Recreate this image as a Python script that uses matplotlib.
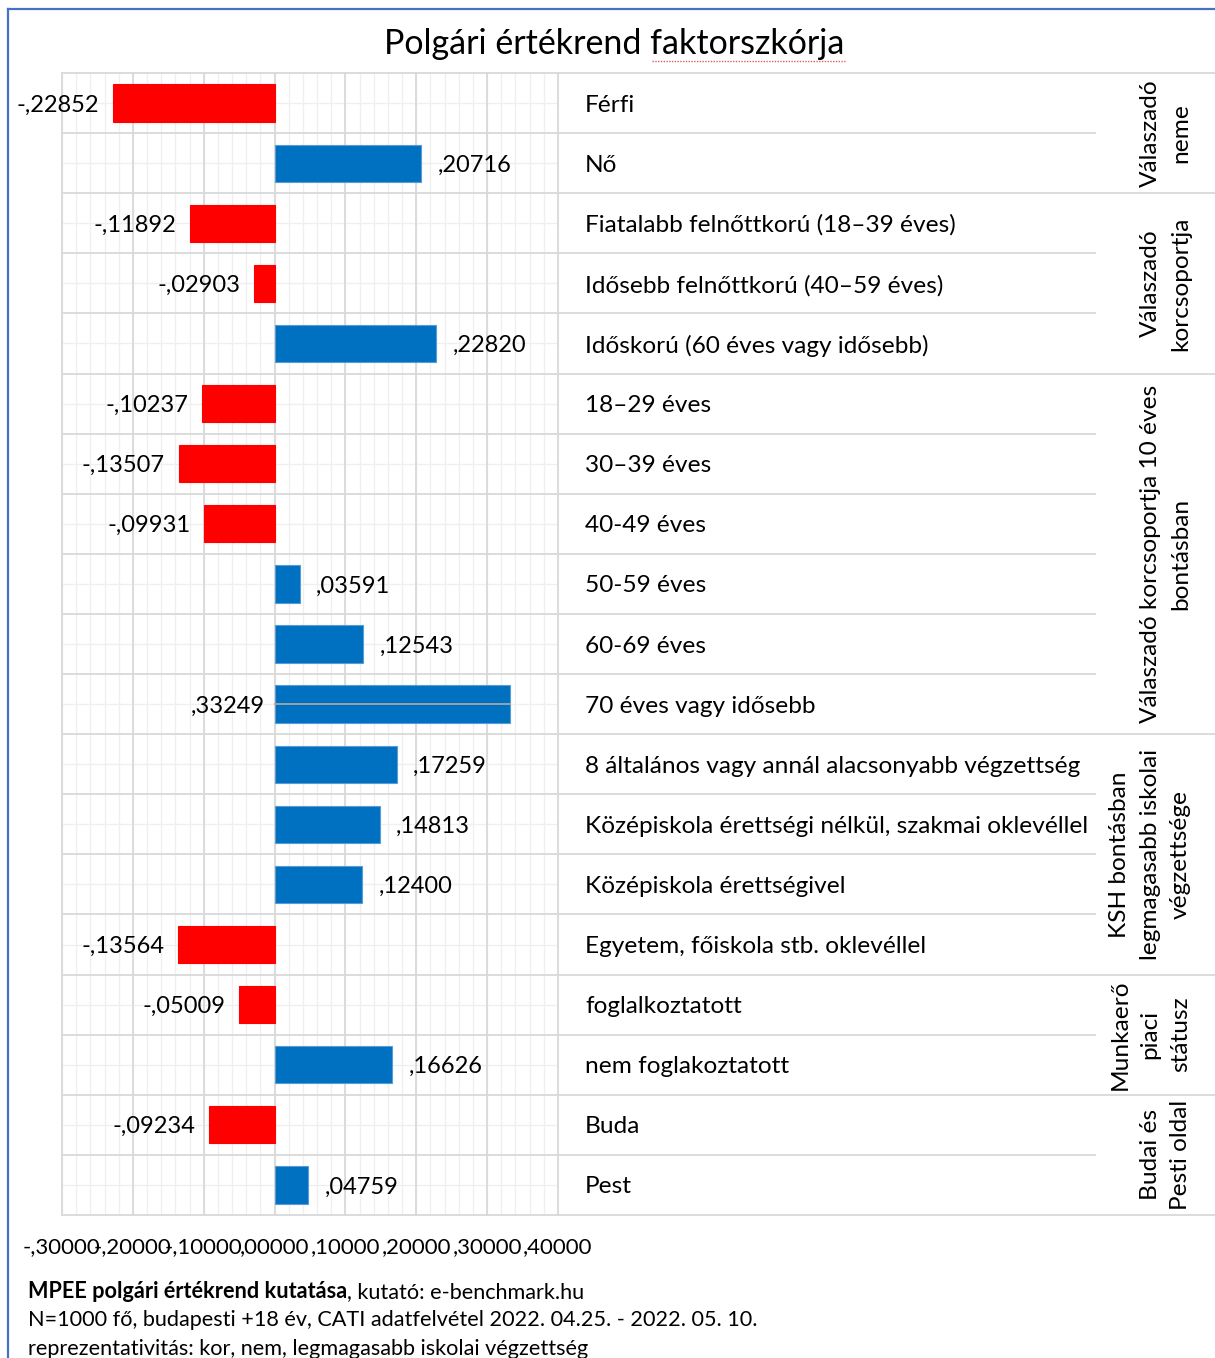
import matplotlib
matplotlib.use("Agg")
import matplotlib.pyplot as plt
from matplotlib.lines import Line2D
import numpy as np

plt.rcParams['font.family'] = ['Lato', 'DejaVu Sans']

categories = ["Férfi", "Nő",
              "Fiatalabb felnőttkorú (18–39 éves)", "Idősebb felnőttkorú (40–59 éves)",
              "Időskorú (60 éves vagy idősebb)",
              "18–29 éves", "30–39 éves", "40-49 éves", "50-59 éves", "60-69 éves",
              "70 éves vagy idősebb",
              "8 általános vagy annál alacsonyabb végzettség",
              "Középiskola érettségi nélkül, szakmai oklevéllel",
              "Középiskola érettségivel", "Egyetem, főiskola stb. oklevéllel",
              "foglalkoztatott", "nem foglakoztatott", "Buda", "Pest"]
values = [-0.22852, 0.20716, -0.11892, -0.02903, 0.22820, -0.10237, -0.13507,
          -0.09931, 0.03591, 0.12543, 0.33249, 0.17259, 0.14813, 0.12400,
          -0.13564, -0.05009, 0.16626, -0.09234, 0.04759]
group_labels = ["Válaszadó\nneme", "Válaszadó\nkorcsoportja",
                "Válaszadó korcsoportja 10 éves\nbontásban",
                "KSH bontásban\nlegmagasabb iskolai\nvégzettsége",
                "Munkaerő\npiaci\nstátusz", "Budai és\nPesti oldal"]
group_sizes = [2, 3, 6, 4, 2, 2]
x_ticks = [-0.3, -0.2, -0.1, 0.0, 0.1, 0.2, 0.3, 0.4]
title = "Polgári értékrend faktorszkórja"


def fmt(v, d=5):
    s = f"{v:.{d}f}"
    s = s.replace("0.", ".", 1)
    return s.replace(".", ",")


W, H = 1215, 1358
fig = plt.figure(figsize=(W / 100, H / 100), dpi=100)


def fx(px):
    return px / W


def fy(py):
    return 1 - py / H


n = len(values)
ax = fig.add_axes([fx(62), fy(1215), (558 - 62) / W, (1215 - 73) / H])
ax.set_xlim(-0.3, 0.4)
ax.set_ylim(n - 0.5, -0.5)

MAJ = '#D9D9D9'
MIN = '#EFEFEF'
for xv in np.arange(-0.3, 0.4001, 0.02):
    ax.axvline(xv, color=MIN, lw=0.9, zorder=0)
for xv in x_ticks:
    ax.axvline(xv, color=MAJ, lw=1.3, zorder=0.5, clip_on=False)
for i in range(n):
    ax.axhline(i, color=MIN, lw=0.9, zorder=0.4)
for i in range(n + 1):
    ax.axhline(i - 0.5, color=MAJ, lw=1.3, zorder=0.6, clip_on=False)

colors = ['#FF0000' if v < 0 else '#0070C0' for v in values]
edges = ['#FF0000' if v < 0 else '#5B9BD5' for v in values]
ax.barh(range(n), values, height=0.62, color=colors, edgecolor=edges,
        linewidth=0.8, zorder=2)

# gray gridline artifact over the longest bar
imax = int(np.argmax(values))
ax.plot([0, values[imax]], [imax, imax], color='#A6A6A6', lw=1.3, zorder=3)

FS = 17
for i, v in enumerate(values):
    if v < 0:
        ax.annotate(fmt(v), xy=(v, i), xytext=(-14, 0), textcoords='offset pixels',
                    ha='right', va='center_baseline', fontsize=FS)
    elif v > 0.3:
        ax.annotate(fmt(v), xy=(0, i), xytext=(-10, 0), textcoords='offset pixels',
                    ha='right', va='center_baseline', fontsize=FS)
    else:
        ax.annotate(fmt(v), xy=(v, i), xytext=(16, 0), textcoords='offset pixels',
                    ha='left', va='center_baseline', fontsize=FS)

ax.set_xticks(x_ticks)
ax.set_xticklabels([fmt(t) for t in x_ticks], fontsize=16)
ax.tick_params(axis='x', length=0, pad=16)
ax.set_yticks([])
for s in ax.spines.values():
    s.set_visible(False)

# category table on the right
ax2 = fig.add_axes([fx(558), fy(1215), (W - 558) / W, (1215 - 73) / H])
ax2.set_xlim(0, W - 558)
ax2.set_ylim(n - 0.5, -0.5)
ax2.axis('off')

for i, c in enumerate(categories):
    ax2.text(27, i, c, ha='left', va='center_baseline', fontsize=17.6)

bounds = np.cumsum([0] + group_sizes)
group_b = set(bounds.tolist())
for k in range(n + 1):
    xe = W - 558 if k in group_b else 1095 - 558
    ax2.plot([0, xe], [k - 0.5, k - 0.5], color=MAJ, lw=1.3, clip_on=False)

for g, lab in enumerate(group_labels):
    yc = (bounds[g] + bounds[g + 1] - 1) / 2
    ax2.text(1191 - 558, yc, lab, rotation=90, ha='right', va='center',
             multialignment='center', fontsize=17.6, linespacing=1.55)

# title
fig.text(fx(614), fy(44), title, ha='center', va='center', fontsize=24.5)
fig.add_artist(Line2D([fx(652), fx(846)], [fy(61), fy(61)], color='#E06060',
                      ls=(0, (1, 1)), lw=1))

# outer blue frame (left and top)
fig.add_artist(Line2D([fx(8), fx(8)], [fy(9), 0], color='#4472C4', lw=1.6))
fig.add_artist(Line2D([fx(8), 1], [fy(9), fy(9)], color='#4472C4', lw=1.6))

# footer
FF = 15.6
fig.canvas.draw()
t1 = fig.text(fx(28), fy(1292), "MPEE polgári értékrend kutatása", ha='left',
              va='center', fontsize=FF, weight='bold')
fig.canvas.draw()
bb = t1.get_window_extent()
fig.text(bb.x1 / W, fy(1292), ", kutató: e-benchmark.hu", ha='left', va='center',
         fontsize=FF)
fig.text(fx(28), fy(1320), "N=1000 fő, budapesti +18 év, CATI adatfelvétel 2022. 04.25. - 2022. 05. 10.",
         ha='left', va='center', fontsize=FF)
fig.text(fx(28), fy(1349), "reprezentativitás: kor, nem, legmagasabb iskolai végzettség",
         ha='left', va='center', fontsize=FF)

fig.savefig("out.png", dpi=100)
